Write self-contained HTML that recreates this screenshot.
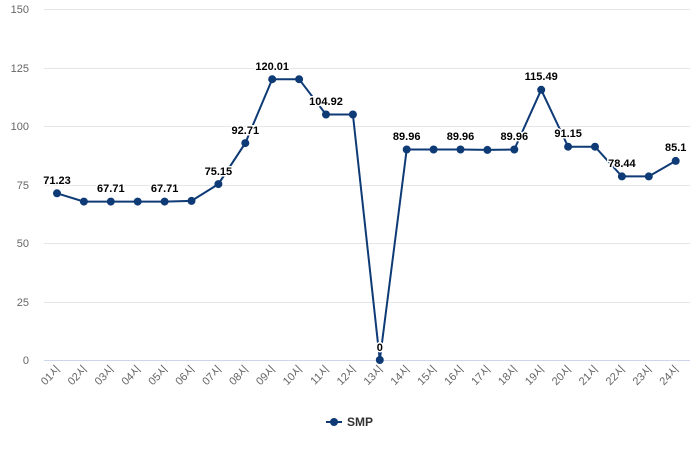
<!DOCTYPE html>
<html><head><meta charset="utf-8"><style>
body{margin:0;background:#fff}
svg{display:block;font-family:"Liberation Sans","Noto Sans CJK KR",sans-serif}
</style></head><body>
<svg width="700" height="450" xmlns="http://www.w3.org/2000/svg">
<g stroke="#e6e6e6" stroke-width="1">
<line x1="44" x2="690" y1="9.5" y2="9.5"/><line x1="44" x2="690" y1="68.5" y2="68.5"/>
<line x1="44" x2="690" y1="126.5" y2="126.5"/><line x1="44" x2="690" y1="185.5" y2="185.5"/>
<line x1="44" x2="690" y1="243.5" y2="243.5"/><line x1="44" x2="690" y1="302.5" y2="302.5"/>
</g>
<line x1="44" x2="690" y1="360.5" y2="360.5" stroke="#ccd6eb"/>
<g font-size="11" fill="#666" text-anchor="end">
<text x="29" y="13">150</text><text x="29" y="72">125</text><text x="29" y="130">100</text>
<text x="29" y="189">75</text><text x="29" y="247">50</text><text x="29" y="306">25</text><text x="29" y="364">0</text>
</g>
<g font-size="11" fill="#666" text-anchor="end" id="xl"></g>
<polyline fill="none" stroke="#0e3a75" stroke-width="2" points="57,193.3 83.9,201.6 110.8,201.6 137.7,201.6 164.6,201.6 191.5,200.9 218.4,184.1 245.3,143.1 272.2,79.2 299.1,79.2 326,114.5 352.9,114.5 379.8,360 406.7,149.5 433.6,149.5 460.5,149.5 487.4,149.9 514.3,149.5 541.2,89.8 568.1,146.7 595,146.7 621.9,176.4 648.8,176.4 675.7,160.9"/>
<g fill="#0e3a75">
<circle cx="57" cy="193.3" r="4"/><circle cx="83.9" cy="201.6" r="4"/><circle cx="110.8" cy="201.6" r="4"/><circle cx="137.7" cy="201.6" r="4"/><circle cx="164.6" cy="201.6" r="4"/><circle cx="191.5" cy="200.9" r="4"/><circle cx="218.4" cy="184.1" r="4"/><circle cx="245.3" cy="143.1" r="4"/><circle cx="272.2" cy="79.2" r="4"/><circle cx="299.1" cy="79.2" r="4"/><circle cx="326" cy="114.5" r="4"/><circle cx="352.9" cy="114.5" r="4"/><circle cx="379.8" cy="360" r="4"/><circle cx="406.7" cy="149.5" r="4"/><circle cx="433.6" cy="149.5" r="4"/><circle cx="460.5" cy="149.5" r="4"/><circle cx="487.4" cy="149.9" r="4"/><circle cx="514.3" cy="149.5" r="4"/><circle cx="541.2" cy="89.8" r="4"/><circle cx="568.1" cy="146.7" r="4"/><circle cx="595" cy="146.7" r="4"/><circle cx="621.9" cy="176.4" r="4"/><circle cx="648.8" cy="176.4" r="4"/><circle cx="675.7" cy="160.9" r="4"/>
</g>
<g font-size="11" font-weight="bold" fill="#000" text-anchor="middle" stroke="#fff" stroke-width="3" paint-order="stroke">
<text x="57" y="184">71.23</text><text x="110.8" y="192">67.71</text><text x="164.6" y="192">67.71</text><text x="218.4" y="175">75.15</text><text x="245.3" y="134">92.71</text><text x="272.2" y="70">120.01</text><text x="326" y="105">104.92</text><text x="379.8" y="351">0</text><text x="406.7" y="140">89.96</text><text x="460.5" y="140">89.96</text><text x="514.3" y="140">89.96</text><text x="541.2" y="80">115.49</text><text x="568.1" y="137">91.15</text><text x="621.9" y="167">78.44</text><text x="675.7" y="151">85.1</text>
</g>
<g font-size="11" fill="#666" text-anchor="end">
<text transform="translate(61,370) rotate(-45)">01시</text><text transform="translate(87.9,370) rotate(-45)">02시</text><text transform="translate(114.8,370) rotate(-45)">03시</text><text transform="translate(141.7,370) rotate(-45)">04시</text><text transform="translate(168.6,370) rotate(-45)">05시</text><text transform="translate(195.5,370) rotate(-45)">06시</text><text transform="translate(222.4,370) rotate(-45)">07시</text><text transform="translate(249.3,370) rotate(-45)">08시</text><text transform="translate(276.2,370) rotate(-45)">09시</text><text transform="translate(303.1,370) rotate(-45)">10시</text><text transform="translate(330,370) rotate(-45)">11시</text><text transform="translate(356.9,370) rotate(-45)">12시</text><text transform="translate(383.8,370) rotate(-45)">13시</text><text transform="translate(410.7,370) rotate(-45)">14시</text><text transform="translate(437.6,370) rotate(-45)">15시</text><text transform="translate(464.5,370) rotate(-45)">16시</text><text transform="translate(491.4,370) rotate(-45)">17시</text><text transform="translate(518.3,370) rotate(-45)">18시</text><text transform="translate(545.2,370) rotate(-45)">19시</text><text transform="translate(572.1,370) rotate(-45)">20시</text><text transform="translate(599,370) rotate(-45)">21시</text><text transform="translate(625.9,370) rotate(-45)">22시</text><text transform="translate(652.8,370) rotate(-45)">23시</text><text transform="translate(679.7,370) rotate(-45)">24시</text>
</g>
<line x1="326" x2="342" y1="422" y2="422" stroke="#0e3a75" stroke-width="2"/>
<circle cx="334" cy="422" r="4" fill="#0e3a75"/>
<text x="347" y="426" font-size="12" font-weight="bold" fill="#333">SMP</text>
</svg>
</body></html>
